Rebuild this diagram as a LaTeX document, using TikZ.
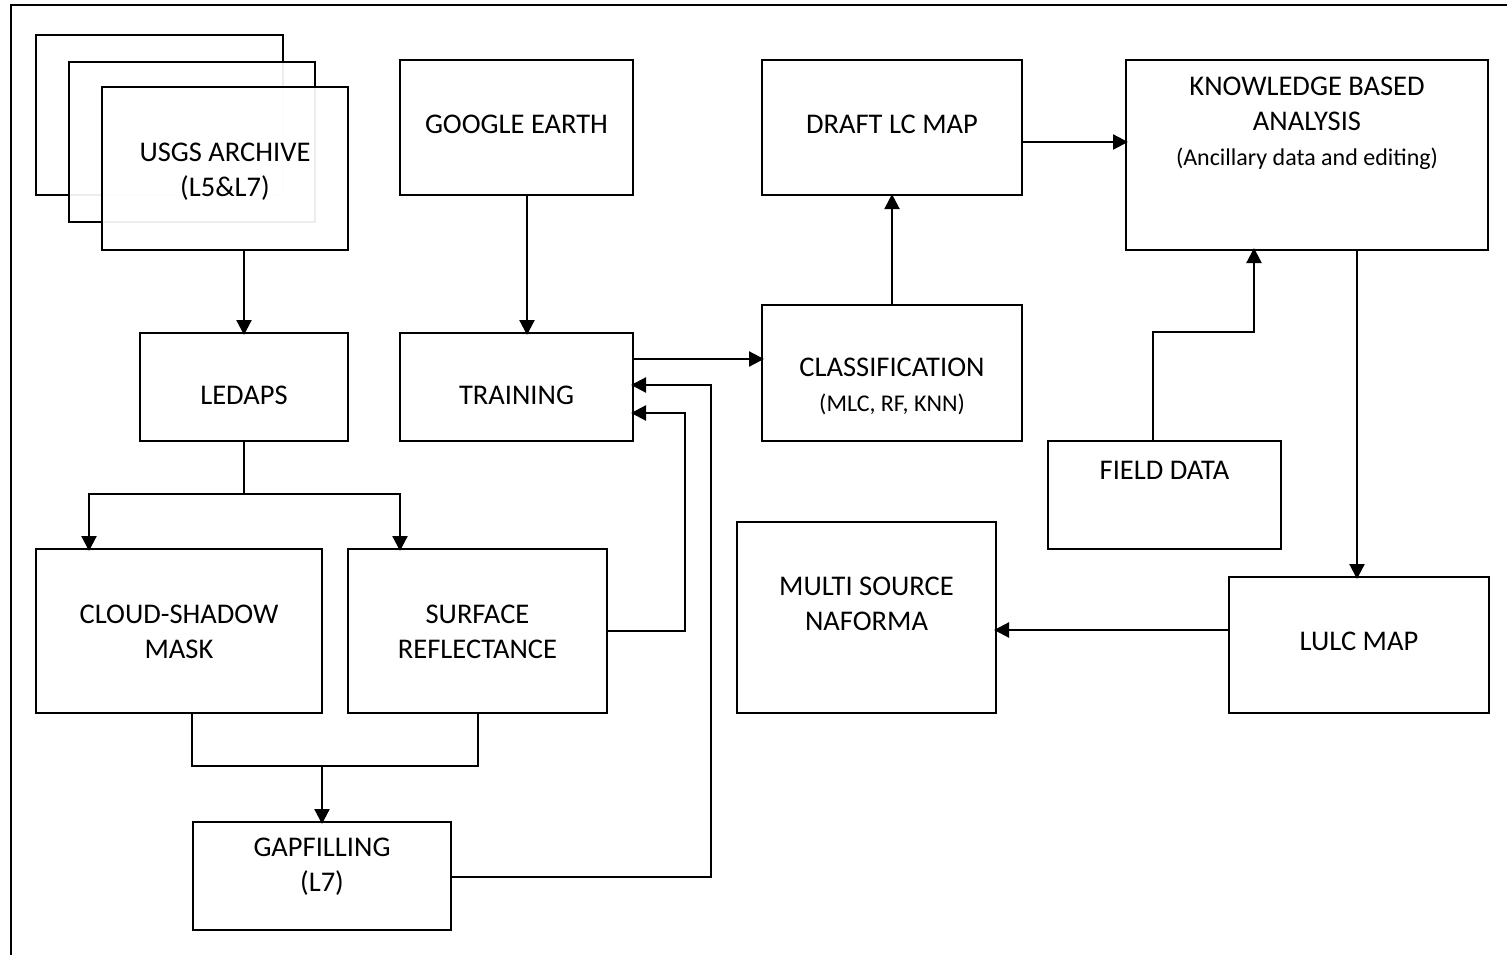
\documentclass[tikz,border=0pt]{standalone}
\usepackage{fontspec}
\setmainfont{Carlito}
\usetikzlibrary{arrows.meta}
\begin{document}
\begin{tikzpicture}[x=1pt,y=-1pt,
  box/.style={draw=black,line width=2.2pt,fill=white,rectangle,inner sep=0pt},
  txt/.style={font=\fontsize{28.5}{35}\selectfont,align=center,inner sep=0pt,text=black},
  arr/.style={line width=2.2pt,-{Triangle[length=15pt,width=15pt]},shorten >=-2pt},
  ln/.style={line width=2.2pt}]
\useasboundingbox (0,0) rectangle (1507,955);
\fill[white] (0,0) rectangle (1507,955);
% outer frame
\draw[line width=2.5pt] (11,960) -- (11,5) -- (1512,5);
% stacked archive boxes
\node[box,minimum width=247pt,minimum height=160pt] (usgsa) at (159.5,115) {};
\node[box,fill opacity=0.93,minimum width=246pt,minimum height=160pt] (usgsb) at (192,142) {};
\node[box,fill opacity=0.93,minimum width=246pt,minimum height=163pt] (usgs) at (225,168.5) {};
\node[txt] (usgst) at (225,172) {USGS ARCHIVE\\(L5\&L7)};
% other boxes
\node[box,minimum width=233pt,minimum height=135pt] (google) at (516.5,127.5) {};
\node[txt] (googlet) at (516.5,124) {GOOGLE EARTH};
\node[box,minimum width=260pt,minimum height=135pt] (draft) at (892,127.5) {};
\node[txt] (draftt) at (892,124) {DRAFT LC MAP};
\node[box,minimum width=362pt,minimum height=190pt] (know) at (1307,155) {};
\node[txt] (knowt) at (1307,123) {KNOWLEDGE BASED\\ANALYSIS\\{\fontsize{24}{35}\selectfont(Ancillary data and editing)}};
\node[box,minimum width=208pt,minimum height=108pt] (ledaps) at (244,387) {};
\node[txt] (ledapst) at (244,395) {LEDAPS};
\node[box,minimum width=233pt,minimum height=108pt] (training) at (516.5,387) {};
\node[txt] (trainingt) at (516.5,395) {TRAINING};
\node[box,minimum width=260pt,minimum height=136pt] (class) at (892,373) {};
\node[txt] (classt) at (892,386) {CLASSIFICATION\\{\fontsize{24}{35}\selectfont(MLC, RF, KNN)}};
\node[box,minimum width=233pt,minimum height=108pt] (field) at (1164.5,495) {};
\node[txt] (fieldt) at (1164.5,470) {FIELD DATA};
\node[box,minimum width=286pt,minimum height=164pt] (cloud) at (179,631) {};
\node[txt] (cloudt) at (179,631.5) {CLOUD-SHADOW\\MASK};
\node[box,minimum width=259pt,minimum height=164pt] (surface) at (477.5,631) {};
\node[txt] (surfacet) at (477.5,631.5) {SURFACE\\REFLECTANCE};
\node[box,minimum width=259pt,minimum height=191pt] (multi) at (866.5,617.5) {};
\node[txt] (multit) at (866.5,603.5) {MULTI SOURCE\\NAFORMA};
\node[box,minimum width=260pt,minimum height=136pt] (lulc) at (1359,645) {};
\node[txt] (lulct) at (1359,641) {LULC MAP};
\node[box,minimum width=258pt,minimum height=108pt] (gap) at (322,876) {};
\node[txt] (gapt) at (322,867) {GAPFILLING\\(L7)};
% helper coordinates
\coordinate (c1) at (244,250);
\coordinate (c2) at (244,333);
\coordinate (g1) at (527,195);
\coordinate (g2) at (527,333);
\coordinate (t1) at (633,359);
\coordinate (t2) at (762,359);
\coordinate (d1) at (1022,142);
\coordinate (d2) at (1126,142);
\coordinate (k1) at (1357,250);
\coordinate (k2) at (1357,577);
\coordinate (f1) at (1153,441);
\coordinate (f2) at (1153,332);
\coordinate (f3) at (1254,332);
\coordinate (f4) at (1254,250);
\coordinate (l1) at (1229,630);
\coordinate (l2) at (996,630);
\coordinate (e1) at (244,441);
\coordinate (e2) at (244,494);
\coordinate (e3) at (89,549);
\coordinate (e4) at (400,549);
\coordinate (m1) at (192,713);
\coordinate (m2) at (192,766);
\coordinate (m3) at (478,766);
\coordinate (m4) at (478,713);
\coordinate (m5) at (322,766);
\coordinate (m6) at (322,822);
\coordinate (s1) at (607,631);
\coordinate (s2) at (685,631);
\coordinate (s3) at (685,413);
\coordinate (s4) at (633,413);
\coordinate (q1) at (451,877);
\coordinate (q2) at (711,877);
\coordinate (q3) at (711,385);
\coordinate (q4) at (633,385);
% connectors
\draw[arr] (c1) -- (c2);
\draw[arr] (g1) -- (g2);
\draw[arr] (t1) -- (t2);
\draw[arr] (class.north) -- (draft.south);
\draw[arr] (d1) -- (d2);
\draw[arr] (k1) -- (k2);
\draw[arr] (f1) -- (f2) -- (f3) -- (f4);
\draw[arr] (l1) -- (l2);
\draw[ln] (e1) -- (e2);
\draw[arr] (e2) -| (e3);
\draw[arr] (e2) -| (e4);
\draw[ln] (m1) -- (m2) -- (m3) -- (m4);
\draw[arr] (m5) -- (m6);
\draw[arr] (s1) -- (s2) -- (s3) -- (s4);
\draw[arr] (q1) -- (q2) -- (q3) -- (q4);
\end{tikzpicture}
\end{document}
